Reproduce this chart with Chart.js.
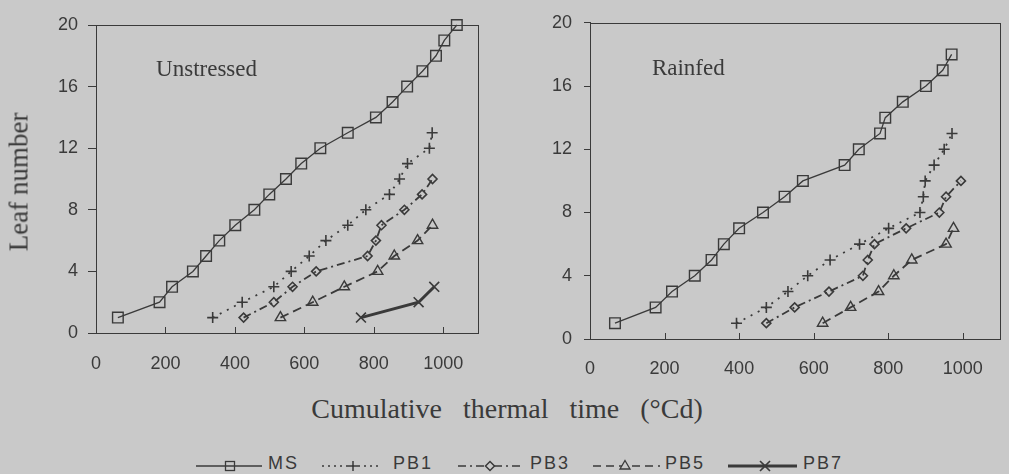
<!DOCTYPE html>
<html><head><meta charset="utf-8">
<script src="https://cdn.jsdelivr.net/npm/chart.js@4.4.0/dist/chart.umd.min.js"></script>
<style>
html,body{margin:0;padding:0;background:#c9c9c9;}
#wrap{position:relative;width:1009px;height:474px;overflow:hidden;background:#c9c9c9;font-family:"Liberation Sans",Arial,sans-serif;color:#3a3a3a;}
canvas{position:absolute;top:0;}
#c1{left:0px;} #c2{left:490px;}
.ytitle{position:absolute;left:19px;top:182px;transform:translate(-50%,-50%) rotate(-90deg);font-family:"Liberation Serif",serif;font-size:27px;line-height:1;white-space:nowrap;}
.xtitle{position:absolute;left:507px;top:395px;transform:translateX(-50%);font-family:"Liberation Serif",serif;font-size:28px;line-height:1;word-spacing:14px;white-space:nowrap;}
.lt{position:absolute;top:454px;font-size:18px;line-height:1;letter-spacing:2px;white-space:nowrap;}
.ls{position:absolute;top:456px;}
</style></head>
<body><div id="wrap">
<canvas id="c1" width="490" height="380"></canvas>
<canvas id="c2" width="519" height="380"></canvas>
<div class="ytitle">Leaf number</div>
<div class="xtitle">Cumulative thermal time (°Cd)</div>

<svg class="ls" style="left:196px" width="68" height="20"><line x1="0" y1="10" x2="66" y2="10" stroke="#3a3a3a" stroke-width="1.3"/><rect x="29.5" y="5.5" width="9" height="9" fill="none" stroke="#3a3a3a" stroke-width="1.3"/></svg>
<span class="lt" style="left:268px">MS</span>
<svg class="ls" style="left:322px" width="62" height="20"><line x1="0" y1="10" x2="60" y2="10" stroke="#3a3a3a" stroke-width="1.6" stroke-dasharray="2,4"/><line x1="26" y1="10" x2="36" y2="10" stroke="#3a3a3a" stroke-width="1.5"/><line x1="31" y1="5" x2="31" y2="15" stroke="#3a3a3a" stroke-width="1.5"/></svg>
<span class="lt" style="left:393px">PB1</span>
<svg class="ls" style="left:458px" width="64" height="20"><line x1="0" y1="10" x2="62" y2="10" stroke="#3a3a3a" stroke-width="1.6" stroke-dasharray="8,4,2,4"/><path d="M32 5.5 L36.5 10 L32 14.5 L27.5 10 Z" fill="#c9c9c9" stroke="#3a3a3a" stroke-width="1.5"/></svg>
<span class="lt" style="left:530px">PB3</span>
<svg class="ls" style="left:593px" width="69" height="20"><line x1="0" y1="10" x2="67" y2="10" stroke="#3a3a3a" stroke-width="1.6" stroke-dasharray="8,5"/><path d="M32 4.5 L37 13 L27 13 Z" fill="#c9c9c9" stroke="#3a3a3a" stroke-width="1.3"/></svg>
<span class="lt" style="left:665px">PB5</span>
<svg class="ls" style="left:728px" width="71" height="20"><line x1="0" y1="10" x2="69" y2="10" stroke="#3a3a3a" stroke-width="3"/><line x1="32" y1="5" x2="42" y2="15" stroke="#3a3a3a" stroke-width="1.6"/><line x1="42" y1="5" x2="32" y2="15" stroke="#3a3a3a" stroke-width="1.6"/></svg>
<span class="lt" style="left:803px">PB7</span>
</div>
<script>
// ---- tick labels ----
const xTicks = [0, 200, 400, 600, 800, 1000];
const yTicks = [0, 4, 8, 12, 16, 20];
const seriesNames = ['MS', 'PB1', 'PB3', 'PB5', 'PB7'];

// ---- Unstressed (cumulative thermal time, leaf number) ----
const msTimeU  = [63, 183, 219, 279, 317, 355, 401, 456, 499, 547, 591, 646, 725, 806, 854, 896, 940, 979, 1003, 1039];
const msLeafU  = [1, 2, 3, 4, 5, 6, 7, 8, 9, 10, 11, 12, 13, 14, 15, 16, 17, 18, 19, 20];
const pb1TimeU = [336, 421, 512, 562, 614, 662, 725, 777, 845, 874, 897, 960, 968];
const pb1LeafU = [1, 2, 3, 4, 5, 6, 7, 8, 9, 10, 11, 12, 13];
const pb3TimeU = [425, 512, 566, 634, 782, 806, 822, 888, 939, 969];
const pb3LeafU = [1, 2, 3, 4, 5, 6, 7, 8, 9, 10];
const pb5TimeU = [531, 624, 715, 811, 859, 926, 969];
const pb5LeafU = [1, 2, 3, 4, 5, 6, 7];
const pb7TimeU = [763, 929, 974];
const pb7LeafU = [1, 2, 3];

// ---- Rainfed ----
const msTimeR  = [67, 176, 220, 281, 326, 359, 400, 464, 522, 571, 683, 721, 778, 792, 839, 901, 946, 970];
const msLeafR  = [1, 2, 3, 4, 5, 6, 7, 8, 9, 10, 11, 12, 13, 14, 15, 16, 17, 18];
const pb1TimeR = [393, 473, 531, 584, 644, 723, 801, 885, 894, 899, 923, 950, 971];
const pb1LeafR = [1, 2, 3, 4, 5, 6, 7, 8, 9, 10, 11, 12, 13];
const pb3TimeR = [473, 549, 641, 732, 745, 763, 848, 937, 955, 995];
const pb3LeafR = [1, 2, 3, 4, 5, 6, 7, 8, 9, 10];
const pb5TimeR = [624, 699, 774, 815, 863, 955, 975];
const pb5LeafR = [1, 2, 3, 4, 5, 6, 7];

const INK = '#3a3a3a';
const styles = {
  MS:  {pointStyle: 'rect', pointRadius: 7.5, borderWidth: 1.3, borderDash: [], pointBorderWidth: 1.4},
  PB1: {pointStyle: 'cross', pointRadius: 5.5, borderWidth: 1.8, borderDash: [2, 6], pointBorderWidth: 1.6},
  PB3: {pointStyle: 'rectRot', pointRadius: 4.5, borderWidth: 1.8, borderDash: [8, 4, 2, 4], pointBorderWidth: 1.6},
  PB5: {pointStyle: 'triangle', pointRadius: 6, borderWidth: 1.8, borderDash: [9, 5], pointBorderWidth: 1.4},
  PB7: {pointStyle: 'crossRot', pointRadius: 7, borderWidth: 3, borderDash: [], pointBorderWidth: 1.6}
};

function ds(name, times, leaves) {
  const s = styles[name];
  return {
    label: name,
    data: times.map((t, i) => ({x: t, y: leaves[i]})),
    showLine: true, tension: 0, clip: false,
    borderColor: INK, backgroundColor: 'rgba(0,0,0,0)',
    borderWidth: s.borderWidth, borderDash: s.borderDash,
    pointStyle: s.pointStyle, pointRadius: s.pointRadius,
    pointBorderColor: INK, pointBackgroundColor: 'rgba(0,0,0,0)',
    pointBorderWidth: s.pointBorderWidth, pointHoverRadius: s.pointRadius
  };
}

const framePlugin = {
  id: 'frame',
  afterDraw(chart, args, opts) {
    const {ctx, chartArea: a, scales: {x, y}} = chart;
    ctx.save();
    ctx.strokeStyle = INK; ctx.lineWidth = 1;
    ctx.strokeRect(Math.round(a.left) + 0.5, Math.round(a.top) + 0.5, Math.round(a.width), Math.round(a.height));
    xTicks.forEach(v => {
      const px = Math.round(x.getPixelForValue(v)) + 0.5;
      ctx.beginPath(); ctx.moveTo(px, a.bottom); ctx.lineTo(px, a.bottom - 6); ctx.stroke();
    });
    ctx.fillStyle = INK;
    ctx.font = '23px "Liberation Serif", serif';
    ctx.textAlign = 'left'; ctx.textBaseline = 'alphabetic';
    ctx.fillText(opts.text, x.getPixelForValue(opts.tx), y.getPixelForValue(opts.ty));
    ctx.restore();
  }
};

function makeChart(id, datasets, cfg) {
  return new Chart(document.getElementById(id), {
    type: 'scatter',
    data: {datasets},
    plugins: [framePlugin],
    options: {
      responsive: false, animation: false, devicePixelRatio: 1,
      layout: {padding: {top: cfg.top, right: cfg.right, left: 0, bottom: 0}},
      plugins: {legend: {display: false}, tooltip: {enabled: false},
                frame: {text: cfg.text, tx: cfg.tx, ty: cfg.ty}},
      scales: {
        x: {
          type: 'linear', min: 0, max: 1100,
          afterBuildTicks: s => { s.ticks = xTicks.map(v => ({value: v})); },
          afterFit: s => { s.height = cfg.xh; },
          grid: {display: false, drawTicks: false},
          border: {display: true, color: INK, width: 1},
          ticks: {color: INK, padding: cfg.xpad, callback: v => String(v),
                  font: {family: '"Liberation Sans", Arial, sans-serif', size: 18}, maxRotation: 0, autoSkip: false}
        },
        y: {
          type: 'linear', min: 0, max: 20,
          afterBuildTicks: s => { s.ticks = yTicks.map(v => ({value: v})); },
          afterFit: s => { s.width = cfg.yw; },
          grid: {display: true, drawOnChartArea: false, drawTicks: true, tickLength: cfg.tl, color: INK, lineWidth: 1},
          border: {display: true, color: INK, width: 1},
          ticks: {color: INK, padding: cfg.ypad, callback: v => String(v),
                  font: {family: '"Liberation Sans", Arial, sans-serif', size: 18}}
        }
      }
    }
  });
}

makeChart('c1', [
  ds('MS', msTimeU, msLeafU), ds('PB1', pb1TimeU, pb1LeafU), ds('PB3', pb3TimeU, pb3LeafU),
  ds('PB5', pb5TimeU, pb5LeafU), ds('PB7', pb7TimeU, pb7LeafU)
], {top: 25, right: 12, xh: 47, yw: 96, tl: 8, xpad: 20, ypad: 10, text: 'Unstressed', tx: 173, ty: 16.7});

makeChart('c2', [
  ds('MS', msTimeR, msLeafR), ds('PB1', pb1TimeR, pb1LeafR), ds('PB3', pb3TimeR, pb3LeafR),
  ds('PB5', pb5TimeR, pb5LeafR)
], {top: 15, right: 8, xh: 41, yw: 100, tl: 6, xpad: 19, ypad: 12, text: 'Rainfed', tx: 166, ty: 16.7});
</script>
</body></html>
